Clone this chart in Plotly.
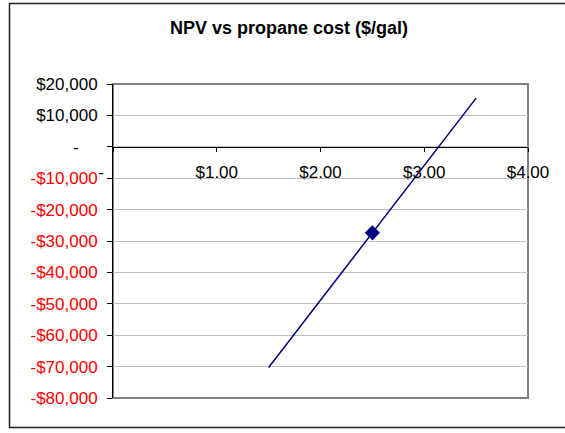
import plotly.graph_objects as go

# ── Data ──────────────────────────────────────────────────────────────────────
propane_cost = [1.5, 2.5, 3.5]
npv = [-70300, -27400, 15500]
marker_sizes = [0, 10, 0]

x_tickvals = [0, 1, 2, 3, 4]
x_ticktext = ["-" + "\u00a0" * 5, "$1.00", "$2.00", "$3.00", "$4.00"]

y_tickvals = [20000, 10000, 0, -10000, -20000, -30000, -40000, -50000, -60000, -70000, -80000]

# ── Style ─────────────────────────────────────────────────────────────────────
NAVY = "#000080"
RED = "#FF0000"
GRID = "#C0C0C0"
FONT = "Liberation Sans, Arial, sans-serif"


def y_label(v):
    if v == 0:
        return "-" + "\u00a0" * 4
    if v < 0:
        return f"<span style='color:{RED}'>-${abs(v):,}</span>"
    return f"${v:,}"


y_ticktext = [y_label(v) for v in y_tickvals]

# plot area in pixels: x 113..528, y 84..398
L, R, T, B = 113, 37, 84, 35
W, H = 565, 433
pw, ph = W - L - R, H - T - B


def px_x(p):
    return (p - L) / pw


def px_y(p):
    return (H - B - p) / ph


fig = go.Figure(go.Scatter(
    x=propane_cost,
    y=npv,
    mode="lines+markers",
    line=dict(color=NAVY, width=1.5),
    marker=dict(symbol="diamond", size=marker_sizes, color=NAVY, opacity=1,
                line=dict(color=NAVY, width=1.5)),
    showlegend=False,
    hoverinfo="skip",
))

zero_pos = (0 - (-80000)) / 100000

fig.update_layout(
    width=W, height=H,
    margin=dict(l=L, r=R, t=T, b=B),
    paper_bgcolor="white",
    plot_bgcolor="white",
    font=dict(family=FONT, size=17, color="black"),
    xaxis=dict(
        range=[0, 4],
        tickvals=x_tickvals,
        ticktext=x_ticktext,
        anchor="free",
        position=zero_pos,
        showline=True, linecolor="black", linewidth=1,
        ticks="outside", ticklen=4, tickcolor="black",
        ticklabelstandoff=6,
        showgrid=False, zeroline=False,
    ),
    yaxis=dict(
        range=[-80000, 20000],
        tickvals=y_tickvals,
        ticktext=y_ticktext,
        showline=True, linecolor="black", linewidth=1,
        ticks="outside", ticklen=5, tickcolor="black",
        ticklabelstandoff=6,
        showgrid=True, gridcolor=GRID, gridwidth=1,
        zeroline=False,
    ),
    shapes=[
        # plot-area border
        dict(type="rect", xref="paper", yref="paper", x0=0, x1=1, y0=0, y1=1,
             line=dict(color="#808080", width=2), layer="below"),
        # chart-area border (cropped on the right)
        dict(type="rect", xref="paper", yref="paper",
             x0=px_x(9.5), x1=px_x(575), y0=px_y(427.5), y1=px_y(3.5),
             line=dict(color="#202020", width=1.5)),
    ],
    annotations=[
        dict(text="<b>NPV vs propane cost ($/gal)</b>", xref="paper", yref="paper",
             x=px_x(289), y=px_y(28), xanchor="center", yanchor="middle",
             showarrow=False, font=dict(size=18, color="black")),
    ],
)

fig.write_html("out.html", config={"displayModeBar": False},
               post_script="document.body.style.margin='0';")
